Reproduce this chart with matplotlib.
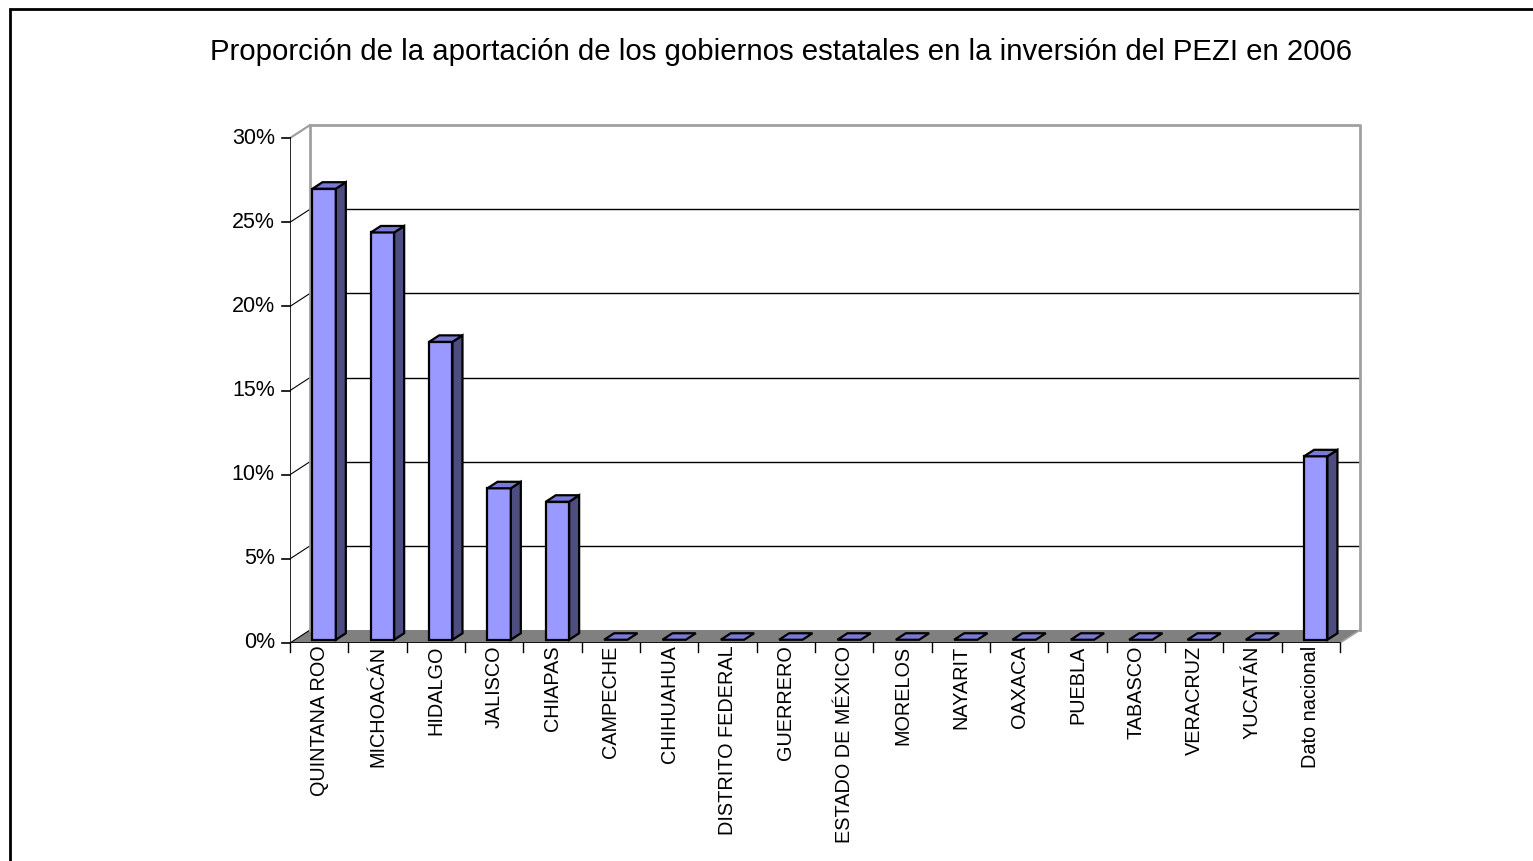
import matplotlib
matplotlib.use("Agg")
import matplotlib.pyplot as plt
from matplotlib.patches import Polygon, Rectangle

plt.rcParams['font.family'] = ['Liberation Sans', 'DejaVu Sans']

# datos
estados = ["QUINTANA ROO", "MICHOACÁN", "HIDALGO", "JALISCO", "CHIAPAS",
           "CAMPECHE", "CHIHUAHUA", "DISTRITO FEDERAL", "GUERRERO",
           "ESTADO DE MÉXICO", "MORELOS", "NAYARIT", "OAXACA", "PUEBLA",
           "TABASCO", "VERACRUZ", "YUCATÁN", "Dato nacional"]
proporcion = [26.8, 24.2, 17.7, 9.0, 8.2, 0, 0, 0, 0, 0, 0, 0, 0, 0, 0, 0, 0, 10.9]
y_ticks = [0, 5, 10, 15, 20, 25, 30]
titulo = "Proporción de la aportación de los gobiernos estatales en la inversión del PEZI en 2006"

W, H = 1533, 861
fig = plt.figure(figsize=(W / 100, H / 100), dpi=100)

# escala: 58.33 px por categoria, 16.83 px por punto porcentual
px_x, px_y = 58.33, 16.83
n = len(estados)
xmax, ymax = n + 0.6, 31.0
ax = fig.add_axes([290 / W, 218 / H, xmax * px_x / W, ymax * px_y / H])
ax.set_xlim(0, xmax)
ax.set_ylim(0, ymax)
ax.axis('off')

# desplazamiento de profundidad (efecto 3D)
DX, DY = 20 / px_x, 13 / px_y


def P(x, y, f):
    return (x + f * DX, y + f * DY)


gris = '#808080'
# piso
ax.add_patch(Polygon([P(0, 0, 0), P(n, 0, 0), P(n, 0, 1), P(0, 0, 1)],
                     closed=True, facecolor=gris, edgecolor='none', zorder=1))
# lineas de cuadricula en el fondo y en la pared izquierda
for t in y_ticks[1:-1]:
    ax.plot([P(0, t, 1)[0], P(n, t, 1)[0]], [P(0, t, 1)[1], P(n, t, 1)[1]],
            color='black', lw=1, zorder=1)
for t in y_ticks:
    ax.plot([0, P(0, t, 1)[0]], [t, P(0, t, 1)[1]], color='black', lw=0.8, zorder=1)
# bordes de las paredes
top = y_ticks[-1]
ax.plot([P(0, 0, 1)[0], P(0, top, 1)[0], P(n, top, 1)[0], P(n, 0, 1)[0]],
        [P(0, 0, 1)[1], P(0, top, 1)[1], P(n, top, 1)[1], P(n, 0, 1)[1]],
        color='#a0a0a0', lw=2, zorder=1)
ax.plot([0, P(0, top, 1)[0]], [top, P(0, top, 1)[1]], color='#a0a0a0', lw=1.5, zorder=1)
ax.plot([n, P(n, 0, 1)[0]], [0, P(n, 0, 1)[1]], color='#a0a0a0', lw=1.2, zorder=1)

# ejes
ax.plot([0, 0], [0, top], color='black', lw=1.2, zorder=3)
ax.plot([0, n], [0, 0], color='black', lw=1.2, zorder=3)
for t in y_ticks:
    ax.plot([-0.14, 0], [t, t], color='black', lw=1.2, clip_on=False, zorder=3)
    ax.text(-0.26, t, f"{t}%", ha='right', va='center', fontsize=15.5, clip_on=False)
for i in range(n + 1):
    ax.plot([i, i], [0, -0.55], color='black', lw=1, clip_on=False, zorder=3)
for i, nombre in enumerate(estados):
    ax.text(i + 0.5, -0.15, nombre, rotation=90, ha='center', va='top',
            fontsize=14.3, clip_on=False, zorder=4)

# barras
f0, f1 = 0.25, 0.75
hw = 0.2
c_frente, c_lado, c_tapa = '#9999FF', '#4D4D80', '#7A7AD6'
for i, v in enumerate(proporcion):
    xl, xr = i + 0.5 - hw, i + 0.5 + hw
    kw = dict(closed=True, edgecolor='black', lw=1.6, joinstyle='miter', zorder=5)
    if v > 0:
        ax.add_patch(Polygon([P(xl, 0, f0), P(xr, 0, f0), P(xr, v, f0), P(xl, v, f0)],
                             facecolor=c_frente, **kw))
        ax.add_patch(Polygon([P(xr, 0, f0), P(xr, 0, f1), P(xr, v, f1), P(xr, v, f0)],
                             facecolor=c_lado, **kw))
    ax.add_patch(Polygon([P(xl, v, f0), P(xr, v, f0), P(xr, v, f1), P(xl, v, f1)],
                         facecolor=c_tapa, **kw))

fig.text(781 / W, 1 - 52 / H, titulo, ha='center', va='center', fontsize=21.2)

# marco del grafico
fig.patches.append(Rectangle((10 / W, -0.01), 1.0, 1 - 9 / H + 0.01,
                             transform=fig.transFigure, fill=False,
                             edgecolor='black', lw=2))

fig.savefig("out.png", dpi=100)
